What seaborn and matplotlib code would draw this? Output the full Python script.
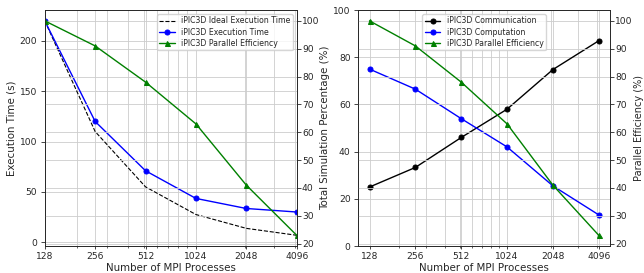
import matplotlib
matplotlib.use("Agg")
import matplotlib.pyplot as plt
from matplotlib.ticker import NullFormatter, ScalarFormatter
import seaborn as sns

# data
procs = [128, 256, 512, 1024, 2048, 4096]
exec_time = [220, 120, 71, 43.5, 33.5, 30]
ideal_time = [220, 110, 55, 27.5, 13.75, 6.875]
efficiency = [100, 91, 78, 63, 41, 23]
comm_pct = [25, 33.3, 46, 58, 74.8, 87]
comp_pct = [75, 66.5, 54, 42, 25.5, 13.2]

sns.set_style("ticks")
plt.rcParams["font.family"] = ["DejaVu Sans"]

LBL = 7.4
TCK = 6.6
LEG = 5.6
LW = 1.0
MS = 3.6
GRID = dict(color="#cccccc", linewidth=0.6)

fig = plt.figure(figsize=(6.44, 2.73), dpi=100)
ax1 = fig.add_axes([0.0695, 0.0989, 0.3912, 0.864])
ax3 = fig.add_axes([0.556, 0.0989, 0.3915, 0.864])


def style_ticks(ax, ypad=2.5):
    ax.tick_params(axis="x", which="major", labelsize=TCK, length=2.5, width=0.6, pad=2)
    ax.tick_params(axis="y", which="major", labelsize=TCK, length=2.8, width=0.6, pad=ypad)
    ax.tick_params(which="minor", length=1.5, width=0.5)
    for s in ax.spines.values():
        s.set_linewidth(0.6)


def style_log_x(ax):
    ax.set_xscale("log")
    ax.set_xticks(procs)
    ax.xaxis.set_major_formatter(ScalarFormatter())
    ax.xaxis.set_minor_formatter(NullFormatter())
    style_ticks(ax)
    ax.grid(True, which="both", **GRID)


# ---- left: execution time + efficiency
sns.lineplot(x=procs, y=ideal_time, ax=ax1, color="k", linestyle="--",
             linewidth=0.8, label="iPIC3D Ideal Execution Time", legend=False)
sns.lineplot(x=procs, y=exec_time, ax=ax1, color="b", marker="o", markersize=MS,
             markeredgecolor="b", linewidth=LW, label="iPIC3D Execution Time", legend=False)
style_log_x(ax1)
ax1.set_xlim(128, 4096)
ax1.set_xlabel("Number of MPI Processes", fontsize=LBL, labelpad=1)
ax1.set_ylabel("Execution Time (s)", fontsize=LBL, labelpad=2)

ax2 = ax1.twinx()
sns.lineplot(x=procs, y=efficiency, ax=ax2, color="g", marker="^", markersize=MS,
             markeredgecolor="g", linewidth=LW, label="iPIC3D Parallel Efficiency", legend=False)
style_ticks(ax2, ypad=1)
ax2.grid(True, **GRID)
ax2.set_ylabel("")

h1, l1 = ax1.get_legend_handles_labels()
h2, l2 = ax2.get_legend_handles_labels()
ax2.legend(h1 + h2, l1 + l2, loc="upper right", fontsize=LEG, framealpha=0.8,
           borderpad=0.3, labelspacing=0.3, handlelength=2.0)

# ---- right: communication / computation share + efficiency
sns.lineplot(x=procs, y=comm_pct, ax=ax3, color="k", marker="o", markersize=MS,
             markeredgecolor="k", linewidth=LW, label="iPIC3D Communication", legend=False)
sns.lineplot(x=procs, y=comp_pct, ax=ax3, color="b", marker="o", markersize=MS,
             markeredgecolor="b", linewidth=LW, label="iPIC3D Computation", legend=False)
style_log_x(ax3)
ax3.set_ylim(0, 100)
ax3.set_xlabel("Number of MPI Processes", fontsize=LBL, labelpad=1)
ax3.set_ylabel("Total Simulation Percentage (%)", fontsize=LBL, labelpad=2)

ax4 = ax3.twinx()
sns.lineplot(x=procs, y=efficiency, ax=ax4, color="g", marker="^", markersize=MS,
             markeredgecolor="g", linewidth=LW, label="iPIC3D Parallel Efficiency", legend=False)
style_ticks(ax4, ypad=1)
ax4.grid(True, **GRID)
ax4.set_ylabel("Parallel Efficiency (%)", fontsize=7.0, labelpad=0.5)

h3, l3 = ax3.get_legend_handles_labels()
h4, l4 = ax4.get_legend_handles_labels()
ax4.legend(h3 + h4, l3 + l4, loc="upper center", fontsize=LEG, framealpha=0.8,
           borderpad=0.3, labelspacing=0.3, handlelength=2.0)

fig.savefig("out.png", dpi=100)
